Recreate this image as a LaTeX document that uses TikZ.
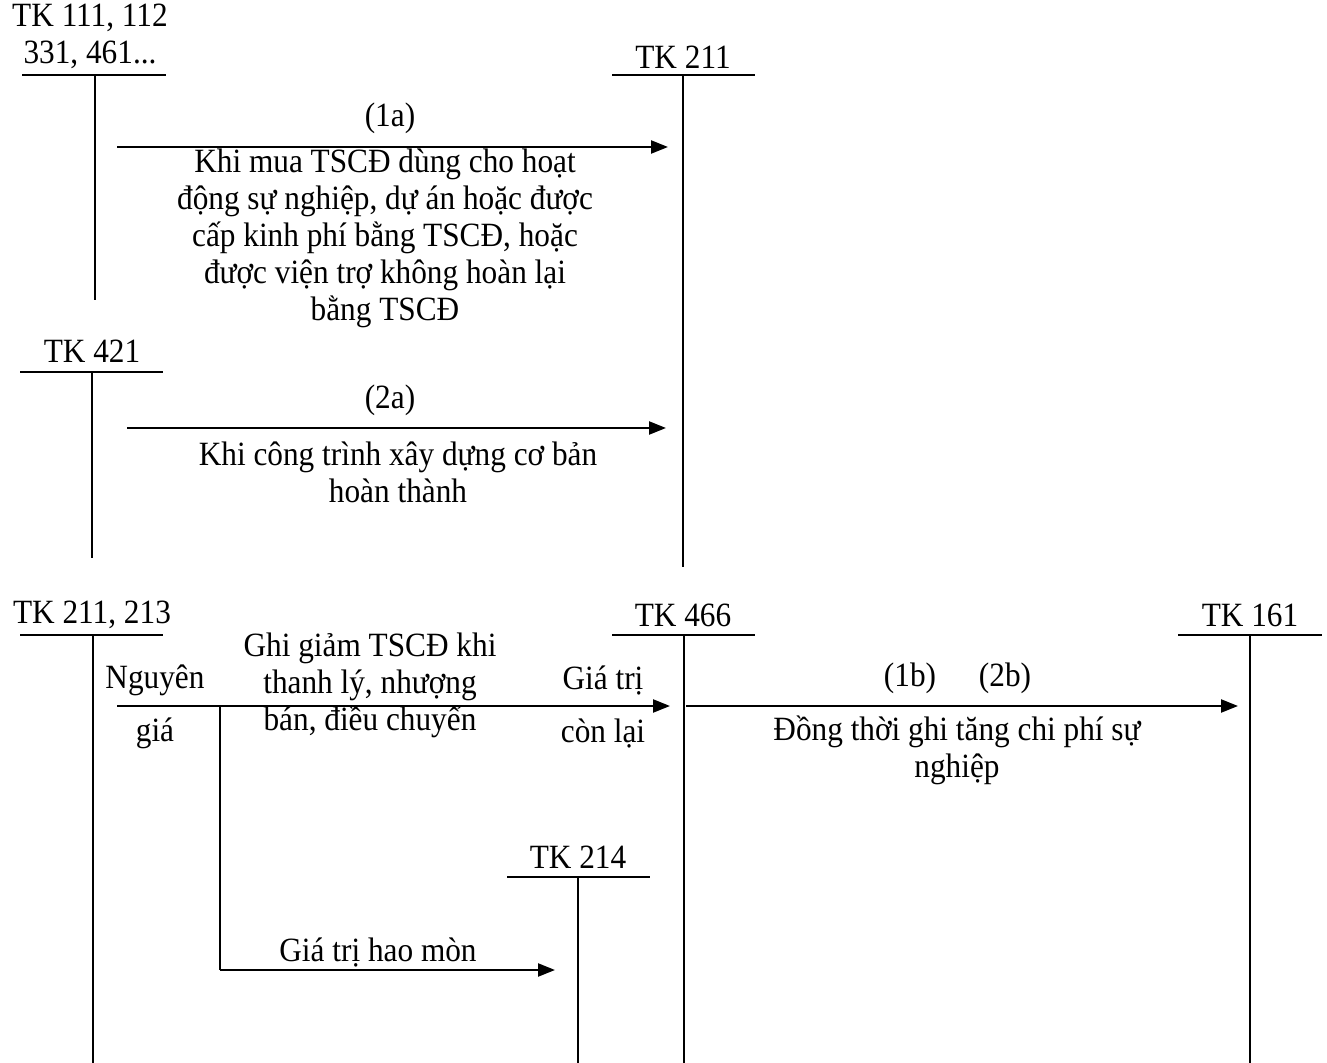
\documentclass[tikz,border=0pt]{standalone}
\usepackage{fontspec}
\setmainfont[FakeStretch=0.92]{Liberation Serif}
\usetikzlibrary{arrows.meta}

\begin{document}
\begin{tikzpicture}[x=0.5pt,y=-0.5pt,
  font=\fontsize{17}{18.5}\selectfont,
  acct/.style={inner sep=0pt,align=center},
  lab/.style={inner sep=0pt,align=center},
  tline/.style={line width=0.7pt},
  flow/.style={line width=1.15pt,-{Triangle[length=8.5pt,width=6.5pt]}}
]
  \useasboundingbox (0,0) rectangle (1327,1063);

  % upper part: increase of fixed assets
  \node[acct] (k111) at (90,36) {TK 111, 112\\331, 461...};
  \draw[tline] (22,75) -- (166,75) (95,75) -- (95,300);
  \node[acct] (k211) at (683,57) {TK 211};
  \draw[tline] (612,75) -- (755,75) (683,75) -- (683,567);
  \node[acct] (k421) at (92,351) {TK 421};
  \draw[tline] (20,372) -- (163,372) (92,372) -- (92,558);

  \coordinate (a1s) at (117,147);
  \coordinate (a1e) at (668,147);
  \draw[flow] (a1s) -- (a1e);
  \node[lab] (n1a) at (390,118) {(1a)};
  \node[lab] (d1a) at (385,238) {Khi mua TSCĐ dùng cho hoạt\\động sự nghiệp, dự án hoặc được\\cấp kinh phí bằng TSCĐ, hoặc\\được viện trợ không hoàn lại\\bằng TSCĐ};

  \coordinate (a2s) at (127,428);
  \coordinate (a2e) at (666,428);
  \draw[flow] (a2s) -- (a2e);
  \node[lab] (n2a) at (390,400) {(2a)};
  \node[lab] (d2a) at (398,472) {Khi công trình xây dựng cơ bản\\hoàn thành};

  % lower part: decrease of fixed assets
  \node[acct] (k213) at (92,615) {TK 211, 213};
  \draw[tline] (20,635) -- (163,635) (93,635) -- (93,1063);
  \node[acct] (k466) at (683,615) {TK 466};
  \draw[tline] (612,635) -- (755,635) (684,635) -- (684,1063);
  \node[acct] (k161) at (1250,615) {TK 161};
  \draw[tline] (1178,635) -- (1322,635) (1250,635) -- (1250,1063);
  \node[acct] (k214) at (578,857) {TK 214};
  \draw[tline] (507,877) -- (650,877) (578,877) -- (578,1063);

  \coordinate (a3s) at (117,706);
  \coordinate (a3e) at (670,706);
  \draw[flow] (a3s) -- (a3e);
  \node[lab] (ng) at (155,680) {Nguyên};
  \node[lab] (gi) at (155,733) {giá};
  \node[lab] (gg) at (370,685) {\fontsize{17}{17}\selectfont Ghi giảm TSCĐ khi\\thanh lý, nhượng\\bán, điều chuyển};
  \node[lab] (gt) at (603,680) {Giá trị};
  \node[lab] (cl) at (603,733) {còn lại};

  \coordinate (br) at (220,706);
  \coordinate (brd) at (220,970);
  \coordinate (hm) at (555,970);
  \draw[tline] (br) -- (brd);
  \draw[flow] (brd) -- (hm);
  \node[lab] (ghm) at (378,952) {Giá trị hao mòn};

  \coordinate (a4s) at (686,706);
  \coordinate (a4e) at (1238,706);
  \draw[flow] (a4s) -- (a4e);
  \node[lab] (n1b) at (910,678) {(1b)};
  \node[lab] (n2b) at (1005,678) {(2b)};
  \node[lab] (dtg) at (957,750) {Đồng thời ghi tăng chi phí sự\\nghiệp};
\end{tikzpicture}
\end{document}
